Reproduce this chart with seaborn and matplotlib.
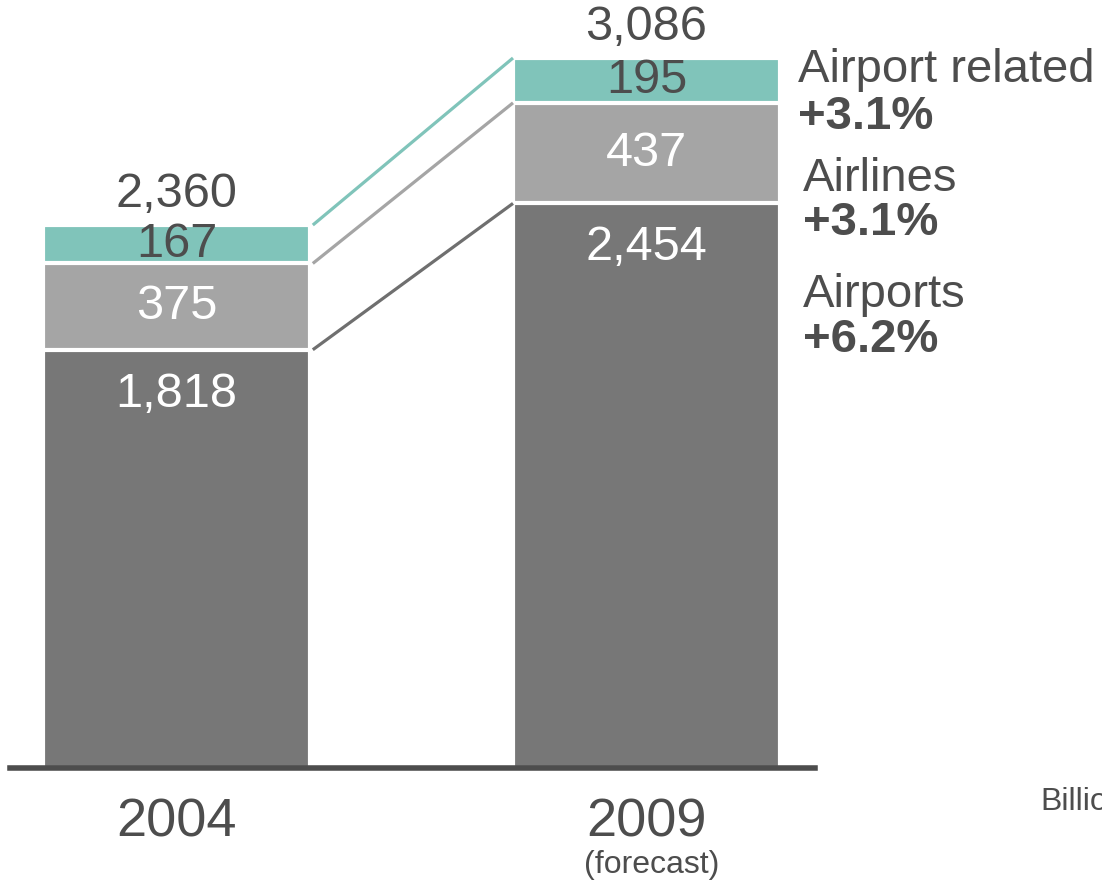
import matplotlib
matplotlib.use("Agg")
import matplotlib.pyplot as plt
import seaborn as sns

# data (billions)
years = ["2004", "2009"]
airports = [1818, 2454]
airlines = [375, 437]
related = [167, 195]
segments = ["Airports", "Airlines", "Airport related"]
growth = ["+6.2%", "+3.1%", "+3.1%"]

teal = "#80C4BA"
light = "#A5A5A5"
dark = "#777777"
txt = "#4D4D4D"

sns.set_theme(style="white")
plt.rcParams['font.family'] = ['Liberation Sans', 'DejaVu Sans']

fig = plt.figure(figsize=(11.02, 8.83), dpi=100)
ax = fig.add_axes([10 / 1102, 115 / 883, 805 / 1102, 768 / 883])

w = 267 / 470
lvl1 = airports
lvl2 = [a + b for a, b in zip(airports, airlines)]
lvl3 = [a + b + c for a, b, c in zip(airports, airlines, related)]

# stacked bars drawn as layers, largest first
for vals, col in [(lvl3, teal), (lvl2, light), (lvl1, dark)]:
    sns.barplot(x=years, y=vals, color=col, saturation=1, width=w,
                edgecolor="white", linewidth=3, ax=ax)

# connecting lines between the bars
for vals, col in [(lvl3, teal), (lvl2, light), (lvl1, "#6F6F6F")]:
    ax.plot([w / 2 + 0.006, 1 - w / 2], vals, color=col, lw=2.3,
            solid_capstyle="butt")

ax.set_xlim(-(176.5 - 10) / 470, 1 + (815 - 646.5) / 470)
ax.set_ylim(0, 3086 * 768 / (768 - 58))

# value labels
fs = 35
for i in range(2):
    ax.annotate(f"{airports[i]:,}", (i, lvl1[i]), xytext=(0, -32), textcoords="offset points",
                ha="center", va="center", fontsize=fs, color="white")
    ax.text(i, lvl1[i] + airlines[i] / 2, f"{airlines[i]:,}", ha="center", va="center",
            fontsize=fs, color="white")
    ax.text(i, lvl2[i] + related[i] / 2, f"{related[i]:,}", ha="center", va="center",
            fontsize=fs, color=txt)
    ax.annotate(f"{lvl3[i]:,}", (i, lvl3[i]), xytext=(0, 22), textcoords="offset points",
                ha="center", va="center", fontsize=fs, color=txt)

# axis styling
for s in ["top", "right", "left"]:
    ax.spines[s].set_visible(False)
ax.spines["bottom"].set_color(txt)
ax.spines["bottom"].set_linewidth(4)
ax.set_yticks([])
ax.tick_params(axis="x", length=0, pad=21, labelsize=39, labelcolor=txt)

fig.text(652 / 1102, 1 - 865 / 883, "(forecast)", ha="center", va="center", fontsize=23, color=txt)

# segment labels on the right
pos = {"Airport related": (798, 70, 117), "Airlines": (803, 179, 223), "Airports": (803, 295, 340)}
for name, g in zip(segments, growth):
    x, y1, y2 = pos[name]
    fig.text(x / 1102, 1 - y1 / 883, name, ha="left", va="center", fontsize=34, color=txt)
    fig.text(x / 1102, 1 - y2 / 883, g, ha="left", va="center", fontsize=34,
             fontweight="bold", color=txt)

fig.text(1040 / 1102, 1 - 802 / 883, "Billions", ha="left", va="center", fontsize=23, color=txt)

fig.savefig("out.png", dpi=100)
